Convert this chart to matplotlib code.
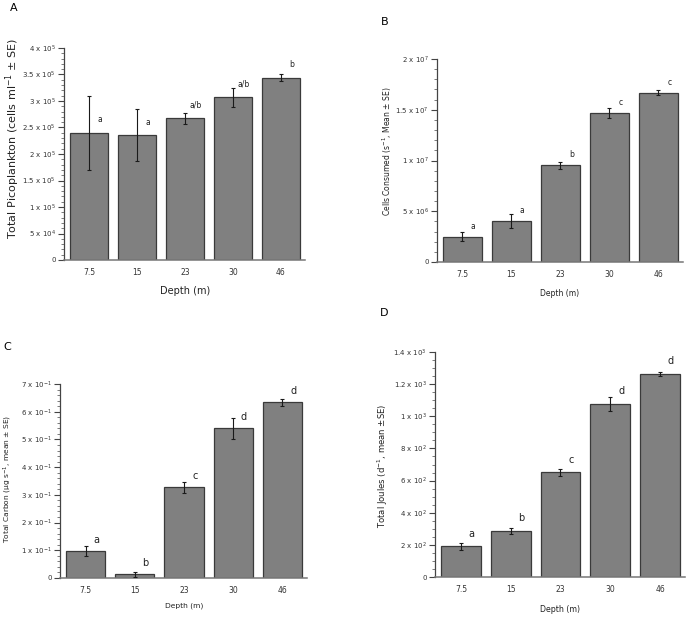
import matplotlib
matplotlib.use("Agg")
import matplotlib.pyplot as plt
import numpy as np

# ---------------- data ----------------
depths = ["7.5", "15", "23", "30", "46"]

picoplankton = [2.40e5, 2.35e5, 2.67e5, 3.07e5, 3.44e5]
picoplankton_se = [0.70e5, 0.49e5, 0.10e5, 0.18e5, 0.065e5]
picoplankton_grp = ["a", "a", "a/b", "a/b", "b"]

consumed = [2.5e6, 4.04e6, 9.52e6, 14.68e6, 16.68e6]
consumed_se = [0.48e6, 0.65e6, 0.33e6, 0.54e6, 0.23e6]
consumed_grp = ["a", "a", "b", "c", "c"]

carbon = [0.096, 0.0144, 0.327, 0.541, 0.634]
carbon_se = [0.018, 0.009, 0.019, 0.038, 0.013]
carbon_grp = ["a", "b", "c", "d", "d"]

joules = [191, 289, 651, 1078, 1265]
joules_se = [22, 19, 22, 43, 12]
joules_grp = ["a", "b", "c", "d", "d"]

ticks_A = [0, 5e4, 1e5, 1.5e5, 2e5, 2.5e5, 3e5, 3.5e5, 4e5]
labels_A = ["0", "5 x 10$^{4}$", "1 x 10$^{5}$", "1.5 x 10$^{5}$", "2 x 10$^{5}$",
            "2.5 x 10$^{5}$", "3 x 10$^{5}$", "3.5 x 10$^{5}$", "4 x 10$^{5}$"]
ticks_B = [0, 5e6, 1e7, 1.5e7, 2e7]
labels_B = ["0", "5 x 10$^{6}$", "1 x 10$^{7}$", "1.5 x 10$^{7}$", "2 x 10$^{7}$"]
ticks_C = [0, 0.1, 0.2, 0.3, 0.4, 0.5, 0.6, 0.7]
labels_C = ["0"] + ["%d x 10$^{-1}$" % k for k in range(1, 8)]
ticks_D = [0, 200, 400, 600, 800, 1000, 1200, 1400]
labels_D = ["0", "2 x 10$^{2}$", "4 x 10$^{2}$", "6 x 10$^{2}$", "8 x 10$^{2}$",
            "1 x 10$^{3}$", "1.2 x 10$^{3}$", "1.4 x 10$^{3}$"]

# ---------------- figure ----------------
W, H = 689, 618
DPI = 100
fig = plt.figure(figsize=(W / DPI, H / DPI), dpi=DPI)
plt.rcParams['font.family'] = ['DejaVu Sans']
plt.rcParams['mathtext.default'] = 'regular'

def px_axes(l, t, r, b):
    return fig.add_axes([l / W, 1 - b / H, (r - l) / W, (b - t) / H])

def panel(ax, vals, errs, grps, ticks, tlabels, minor, grpfs, grp_off, tickfs):
    x = np.arange(len(depths))
    ax.bar(x, vals, width=0.8, color="#808080", edgecolor="#3a3a3a",
           linewidth=0.9, zorder=2)
    ax.errorbar(x, vals, yerr=errs, fmt="none", ecolor="#1a1a1a",
                elinewidth=0.8, capsize=1.6, capthick=0.8, zorder=3)
    for xi, v, g in zip(x, vals, grps):
        ax.annotate(g, (xi + 0.22, v), xytext=(0, grp_off),
                    textcoords="offset points", ha="center", va="center",
                    fontsize=grpfs, color="#222222")
    ax.set_xlim(-0.52, 4.5)
    ax.set_ylim(ticks[0], ticks[-1])
    ax.set_yticks(ticks)
    ax.set_yticklabels(tlabels, fontsize=tickfs, color="#333333")
    ax.set_yticks(np.arange(ticks[0], ticks[-1] + minor / 2, minor), minor=True)
    ax.set_xticks(x)
    ax.set_xticklabels(depths, fontsize=tickfs + 0.5, color="#333333")
    ax.tick_params(axis="x", length=0, pad=6)
    ax.tick_params(axis="y", which="major", direction="out", length=4,
                   width=0.8, color="#444444", pad=2)
    ax.tick_params(axis="y", which="minor", direction="out", length=2,
                   width=0.6, color="#666666")
    for s in ("top", "right"):
        ax.spines[s].set_visible(False)
    ax.spines["left"].set_color("#444444")
    ax.spines["left"].set_linewidth(0.9)
    ax.spines["bottom"].set_color("#777777")
    ax.spines["bottom"].set_linewidth(1.1)
    ax.set_facecolor("white")

# Panel A
axA = px_axes(64, 48, 305, 260)
panel(axA, picoplankton, picoplankton_se, picoplankton_grp, ticks_A, labels_A,
      1e4, 5.5, 9.5, 5.0)
fig.text(13 / W, 1 - 139 / H, "Total Picoplankton (cells ml$^{-1}$ ± SE)",
         rotation=90, ha="center", va="center", fontsize=8, color="#222222")
fig.text(185 / W, 1 - 291 / H, "Depth (m)", ha="center", va="center",
         fontsize=7, color="#222222")
fig.text(14 / W, 1 - 8 / H, "A", ha="center", va="center", fontsize=8)

# Panel B
axB = px_axes(437, 59, 683, 262)
panel(axB, consumed, consumed_se, consumed_grp, ticks_B, labels_B,
      1e6, 5.5, 7.5, 5.0)
fig.text(387 / W, 1 - 151 / H, "Cells Consumed (s$^{-1}$, Mean ± SE)",
         rotation=90, ha="center", va="center", fontsize=5.5, color="#222222")
fig.text(560 / W, 1 - 293 / H, "Depth (m)", ha="center", va="center",
         fontsize=5.5, color="#222222")
fig.text(385 / W, 1 - 22 / H, "B", ha="center", va="center", fontsize=8)

# Panel C
axC = px_axes(60, 384, 307, 578)
panel(axC, carbon, carbon_se, carbon_grp, ticks_C, labels_C,
      0.02, 7.0, 8, 5.0)
fig.text(8 / W, 1 - 479 / H, "Total Carbon (μg s$^{-1}$, mean ± SE)",
         rotation=90, ha="center", va="center", fontsize=5.4, color="#222222")
fig.text(184 / W, 1 - 606 / H, "Depth (m)", ha="center", va="center",
         fontsize=5.4, color="#222222")
fig.text(7 / W, 1 - 347 / H, "C", ha="center", va="center", fontsize=8)

# Panel D
axD = px_axes(435, 352, 685, 577)
panel(axD, joules, joules_se, joules_grp, ticks_D, labels_D,
      50, 7.0, 9, 5.0)
fig.text(383 / W, 1 - 466 / H, "Total Joules (d$^{-1}$, mean ±SE)",
         rotation=90, ha="center", va="center", fontsize=6.1, color="#222222")
fig.text(560 / W, 1 - 609 / H, "Depth (m)", ha="center", va="center",
         fontsize=5.7, color="#222222")
fig.text(384 / W, 1 - 313 / H, "D", ha="center", va="center", fontsize=8)

fig.savefig("out.png", dpi=DPI, facecolor="white")
